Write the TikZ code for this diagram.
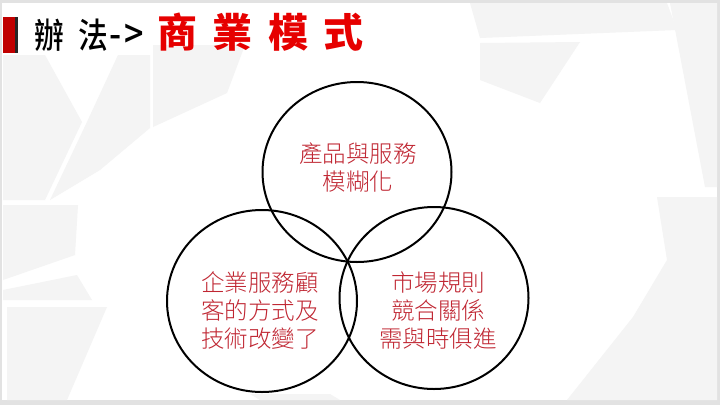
\documentclass[tikz,border=0pt]{standalone}
\usepackage{fontspec}
\usetikzlibrary{shapes.geometric}
\newfontfamily\cjk{Noto Sans CJK TC}
\IfFontExistsTF{Noto Sans CJK TC Light}{\newfontfamily\cjklt{Noto Sans CJK TC Light}}{\newfontfamily\cjklt{Noto Sans CJK TC}}
\IfFontExistsTF{Noto Sans CJK TC Medium}{\newfontfamily\cjkmd{Noto Sans CJK TC Medium}}{\newfontfamily\cjkmd{Noto Sans CJK TC}}
\definecolor{bodyred}{RGB}{192,38,50}
\definecolor{titlered}{RGB}{230,0,0}
\definecolor{barred}{RGB}{192,0,0}
\definecolor{bgpoly}{RGB}{244,244,244}
\definecolor{frame}{RGB}{226,226,226}
\tikzset{
  ring/.style={draw=black, line width=2pt, ellipse, inner sep=0pt},
  bodytext/.style={text=bodyred, align=center, inner sep=0pt,
    font=\cjklt\fontsize{23.5pt}{28pt}\selectfont},
  poly/.style={fill=bgpoly, draw=none}
}
\begin{document}
\begin{tikzpicture}[x=1pt,y=-1pt]
\useasboundingbox (0,0) rectangle (720,405);
% slide frame and background
\fill[frame] (0,0) rectangle (720,405);
\fill[white] (2,3) rectangle (717,400);
\fill[poly] (0,55) -- (45,55) -- (82,122) -- (45,200) -- (3,200) -- (3,55) -- cycle;
\fill[poly] (118,55) -- (150,55) -- (150,128) -- (100,170) -- (50,200) -- (86,124) -- cycle;
\fill[poly] (153,45) -- (245,45) -- (227,93) -- (153,127) -- cycle;
\fill[poly] (3,205) -- (78,205) -- (75,255) -- (3,280) -- cycle;
\fill[poly] (7,307) -- (107,307) -- (67,400) -- (7,400) -- cycle;
\fill[poly] (3,290) -- (77,275) -- (92,300) -- (3,300) -- cycle;
\fill[poly] (470,3) -- (667,3) -- (677,30) -- (480,38) -- cycle;
\fill[poly] (480,43) -- (580,42) -- (540,103) -- (480,80) -- cycle;
\fill[poly] (670,3) -- (717,3) -- (717,187) -- (705,187) -- cycle;
\fill[poly] (657,197) -- (717,197) -- (717,400) -- (567,400) -- (633,317) -- (667,260) -- cycle;
\fill[poly] (250,394) -- (330,394) -- (340,400) -- (260,400) -- cycle;
% title
\fill[barred] (3,17) rectangle (15,53);
\fill[black!85] (15,17) rectangle (18,53);
\node[anchor=base west, inner sep=0pt, xscale=0.85, font=\cjkmd\fontsize{35pt}{35pt}\selectfont]
  (t1) at (34,48) {辦\hspace{0.5em}法{\fontsize{40pt}{40pt}\selectfont\kern1pt-\kern3pt>}};
\node[anchor=base west, inner sep=0pt, text=titlered, font=\cjk\bfseries\fontsize{40pt}{40pt}\selectfont]
  (t2) at (157,47) {商\hspace{15.5pt}業\hspace{15.5pt}模\hspace{15.5pt}式};
% circles
\node[ring, minimum width=189pt, minimum height=180pt] (ctop) at (357,172) {};
\node[ring, minimum width=190pt, minimum height=182pt] (cleft) at (262,301) {};
\node[ring, minimum width=189pt, minimum height=182pt] (cright) at (434,298) {};
% texts
\node[bodytext] (ttop) at (358,168) {產品與服務\\模糊化};
\node[bodytext] (tleft) at (260,311) {企業服務顧\\客的方式及\\技術改變了};
\node[bodytext] (tright) at (438,311) {市場規則\\競合關係\\需與時俱進};
\end{tikzpicture}
\end{document}
